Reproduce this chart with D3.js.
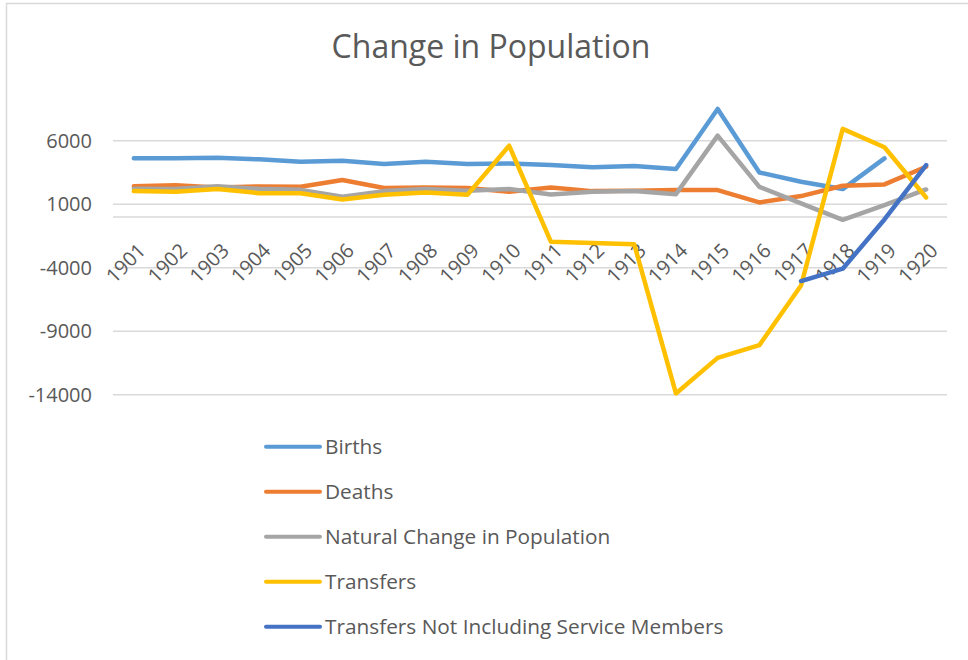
<!DOCTYPE html>
<html>
  <head>
    <meta charset="utf-8">
    <title>Change in Population</title>
    <script src="https://d3js.org/d3.v7.min.js"></script>
    <style>
      body { margin: 0; background: #fff; }
      svg text { font-family: "Open Sans", sans-serif; fill: #595959; }
    </style>
  </head>
  <body>
    <div id="chart"></div>
    <script>
      // data
      var years = ["1901", "1902", "1903", "1904", "1905", "1906", "1907", "1908", "1909", "1910",
                   "1911", "1912", "1913", "1914", "1915", "1916", "1917", "1918", "1919", "1920"];
      var births = [4610, 4610, 4650, 4530, 4350, 4420, 4160, 4350, 4160, 4210,
                    4080, 3900, 4000, 3770, 8500, 3500, 2770, 2190, 4610, null];
      var deaths = [2420, 2500, 2320, 2400, 2370, 2900, 2270, 2320, 2270, 1980,
                    2320, 2030, 2060, 2110, 2110, 1140, 1640, 2450, 2560, 3950];
      var naturalChange = [2210, 2190, 2420, 2210, 2130, 1580, 2030, 2190, 2060, 2190,
                           1770, 1980, 2030, 1790, 6400, 2370, 1060, -230, 920, 2160];
      var transfers = [2030, 1980, 2190, 1870, 1870, 1370, 1740, 1930, 1740, 5610,
                       -1950, -2050, -2160, -13900, -11100, -10100, -5400, 6930, 5480, 1530];
      var transfersNoService = [null, null, null, null, null, null, null, null, null, null,
                                null, null, null, null, null, null, -5050, -4080, -200, 4080];
      var yTicks = [6000, 1000, -4000, -9000, -14000];

      var series = [
        { name: "Births", values: births, color: "#5B9BD5" },
        { name: "Deaths", values: deaths, color: "#ED7D31" },
        { name: "Natural Change in Population", values: naturalChange, color: "#A5A5A5" },
        { name: "Transfers", values: transfers, color: "#FFC000" },
        { name: "Transfers Not Including Service Members", values: transfersNoService, color: "#4472C4" }
      ];

      var width = 968, height = 660;
      var svg = d3.select("#chart")
        .append("svg")
          .attr("width", width)
          .attr("height", height);

      // chart border (cropped at right and bottom)
      svg.append("rect")
        .attr("x", 6.5)
        .attr("y", 3.5)
        .attr("width", 1000)
        .attr("height", 1000)
        .attr("fill", "none")
        .attr("stroke", "#d9d9d9")
        .attr("stroke-width", 1.5);

      // title
      svg.append("text")
        .attr("x", 491)
        .attr("y", 58)
        .attr("text-anchor", "middle")
        .style("font-size", "32px")
        .text("Change in Population");

      // scales
      var x = d3.scalePoint()
        .domain(years)
        .range([113, 947])
        .padding(0.5);
      var y = d3.scaleLinear()
        .domain([-14000, 6000])
        .range([394.7, 140.7]);

      // gridlines
      svg.append("g")
        .selectAll("line")
        .data(yTicks.concat([0]))
        .enter().append("line")
          .attr("x1", x.range()[0])
          .attr("x2", x.range()[1])
          .attr("y1", function(d) { return y(d); })
          .attr("y2", function(d) { return y(d); })
          .attr("stroke", "#d9d9d9")
          .attr("stroke-width", 1.5);

      // y axis labels
      svg.append("g")
        .selectAll("text")
        .data(yTicks)
        .enter().append("text")
          .attr("x", 92)
          .attr("y", function(d) { return y(d); })
          .attr("dy", "0.35em")
          .attr("text-anchor", "end")
          .style("font-size", "20px")
          .text(function(d) { return d; });

      // x axis labels, rotated under the zero line
      svg.append("g")
        .selectAll("text")
        .data(years)
        .enter().append("text")
          .attr("transform", function(d) {
            return "translate(" + (x(d) + 13) + "," + (y(0) + 35) + ") rotate(-45)";
          })
          .attr("text-anchor", "end")
          .style("font-size", "20px")
          .text(function(d) { return d; });

      // lines
      var line = d3.line()
        .defined(function(d) { return d != null; })
        .x(function(d, i) { return x(years[i]); })
        .y(function(d) { return y(d); });

      svg.append("g")
        .selectAll("path")
        .data(series)
        .enter().append("path")
          .attr("d", function(d) { return line(d.values); })
          .attr("fill", "none")
          .attr("stroke", function(d) { return d.color; })
          .attr("stroke-width", 4.5)
          .attr("stroke-linejoin", "round")
          .attr("stroke-linecap", "round");

      // legend
      var legend = svg.append("g")
        .selectAll("g")
        .data(series)
        .enter().append("g")
          .attr("transform", function(d, i) { return "translate(265," + (446.7 + i * 45) + ")"; });
      legend.append("line")
        .attr("x1", 1)
        .attr("x2", 55)
        .attr("stroke", function(d) { return d.color; })
        .attr("stroke-width", 4)
        .attr("stroke-linecap", "round");
      legend.append("text")
        .attr("x", 60)
        .attr("dy", "0.35em")
        .style("font-size", "20.8px")
        .text(function(d) { return d.name; });
    </script>
  </body>
</html>
